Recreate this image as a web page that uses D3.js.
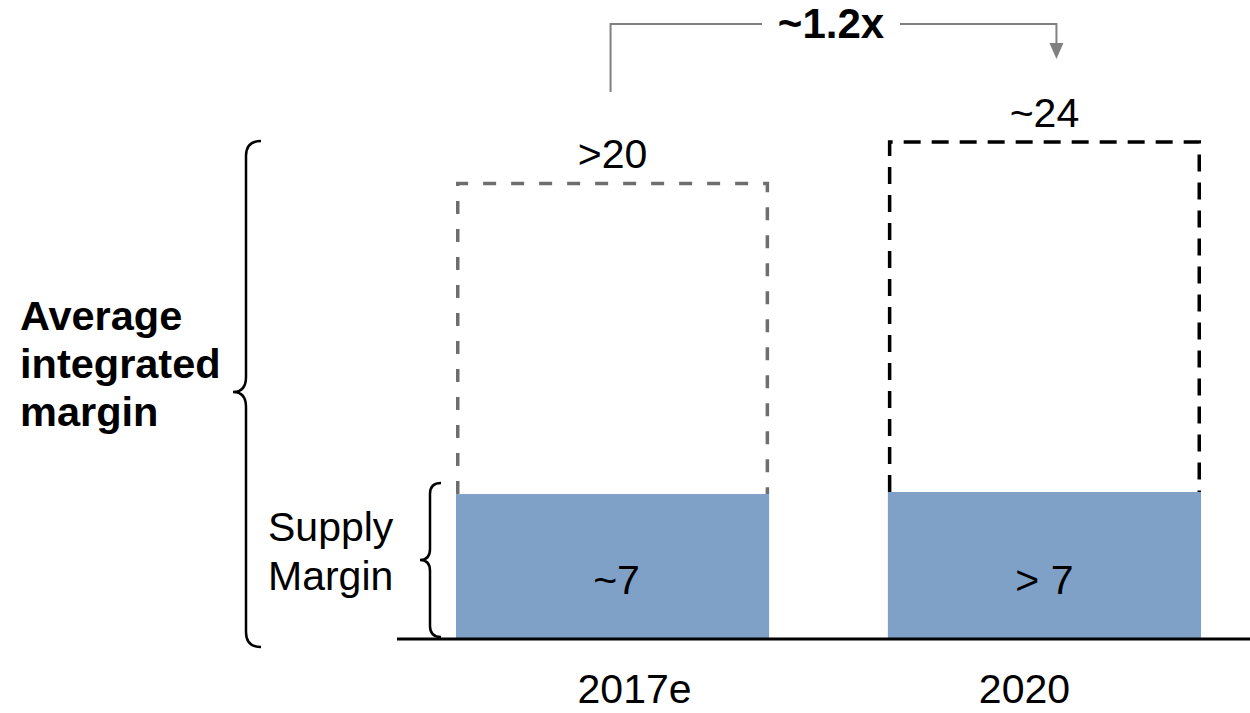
<!DOCTYPE html>
<html>
<head>
<meta charset="utf-8">
<script src="https://cdn.jsdelivr.net/npm/d3@7"></script>
<style>
  html, body { margin: 0; padding: 0; background: #fff; }
  svg { display: block; }
  text { font-family: "Liberation Sans", Arial, sans-serif; fill: #000; }
</style>
</head>
<body>
<svg id="chart" width="1250" height="713"></svg>
<script>
// Margin build-up per year
const categories = ["2017e", "2020"];
const supplyMargin = [7, 7.1];
const integratedMargin = [22, 24];
const supplyLabels = ["~7", "> 7"];
const totalLabels = [">20", "~24"];
const outlineColors = ["#6e6e6e", "#000000"];
const outlineDashes = ["13,15", "17,11"];
const growthLabel = "~1.2x";

const svg = d3.select("#chart");
const W = 1250;
const baseY = 639;
const fs = 41;

const x = d3.scaleBand()
  .domain(categories)
  .range([456, 1201])
  .paddingInner(0.275)
  .paddingOuter(0);

const y = d3.scaleLinear()
  .domain([0, 24])
  .range([baseY, 142]);

const cx = d => x(d) + x.bandwidth() / 2;

// Dashed outline for the full integrated margin
const sw = 3.5;
categories.forEach((c, i) => {
  const l = x(c) + sw / 2, r = x(c) + x.bandwidth() - sw / 2;
  const top = y(integratedMargin[i]);
  const bottom = y(supplyMargin[i]);
  svg.append("path")
    .attr("d", `M${l},${bottom} V${top} H${r} V${bottom}`)
    .attr("fill", "none")
    .attr("stroke", outlineColors[i])
    .attr("stroke-width", sw)
    .attr("stroke-dasharray", outlineDashes[i]);
  svg.append("text")
    .attr("x", cx(c))
    .attr("y", top - 15)
    .attr("text-anchor", "middle")
    .attr("font-size", fs)
    .text(totalLabels[i]);
});

// Supply margin bars
svg.selectAll("rect.supply")
  .data(categories)
  .join("rect")
  .attr("class", "supply")
  .attr("x", d => x(d))
  .attr("width", x.bandwidth())
  .attr("y", (d, i) => y(supplyMargin[i]))
  .attr("height", (d, i) => baseY - 1 - y(supplyMargin[i]))
  .attr("fill", "#7FA1C7");

svg.selectAll("text.supplyLab")
  .data(categories)
  .join("text")
  .attr("class", "supplyLab")
  .attr("x", (d, i) => cx(d) + (i === 0 ? 4 : 0))
  .attr("y", 594)
  .attr("text-anchor", "middle")
  .attr("font-size", fs)
  .text((d, i) => supplyLabels[i]);

// Baseline
svg.append("line")
  .attr("x1", 397).attr("x2", W)
  .attr("y1", baseY).attr("y2", baseY)
  .attr("stroke", "#000").attr("stroke-width", 3);

// Category labels, set slightly toward the middle of the chart
const catShift = [22, -20];
svg.selectAll("text.cat")
  .data(categories)
  .join("text")
  .attr("class", "cat")
  .attr("x", (d, i) => cx(d) + catShift[i])
  .attr("y", 703)
  .attr("text-anchor", "middle")
  .attr("font-size", fs)
  .text(d => d);

// Growth arrow between the two totals
const arrowColor = "#808080";
const ax0 = cx(categories[0]) - 2, ax1 = cx(categories[1]) + 12;
const arrowY = 24;
svg.append("path")
  .attr("d", `M${ax0},92 V${arrowY} H762`)
  .attr("fill", "none").attr("stroke", arrowColor).attr("stroke-width", 2);
svg.append("path")
  .attr("d", `M900,${arrowY} H${ax1} V44`)
  .attr("fill", "none").attr("stroke", arrowColor).attr("stroke-width", 2);
svg.append("path")
  .attr("d", `M${ax1 - 7},43 L${ax1 + 7},43 L${ax1},59 Z`)
  .attr("fill", arrowColor);
svg.append("text")
  .attr("x", 831)
  .attr("y", 38)
  .attr("text-anchor", "middle")
  .attr("font-size", 42)
  .attr("font-weight", "bold")
  .text(growthLabel);

// Braces
function brace(xv, xe, xt, y0, ym, y1, r) {
  return `M${xe},${y0} Q${xv},${y0} ${xv},${y0 + r} V${ym - r} Q${xv},${ym} ${xt},${ym}` +
         ` Q${xv},${ym} ${xv},${ym + r} V${y1 - r} Q${xv},${y1} ${xe},${y1}`;
}
svg.append("path")
  .attr("d", brace(246, 261, 233, 141, 392, 647, 15))
  .attr("fill", "none").attr("stroke", "#000").attr("stroke-width", 2.5);
svg.append("path")
  .attr("d", brace(430, 441, 420, 483, 560, 637, 11))
  .attr("fill", "none").attr("stroke", "#000").attr("stroke-width", 2.5);

// Side labels
const bigLab = svg.append("text")
  .attr("font-size", 41.5).attr("font-weight", "bold");
["Average", "integrated", "margin"].forEach((t, i) => {
  bigLab.append("tspan").attr("x", 20).attr("y", 330 + i * 48).text(t);
});
const smallLab = svg.append("text").attr("font-size", fs);
["Supply", "Margin"].forEach((t, i) => {
  smallLab.append("tspan").attr("x", 268).attr("y", 541 + i * 49).text(t);
});
</script>
</body>
</html>
